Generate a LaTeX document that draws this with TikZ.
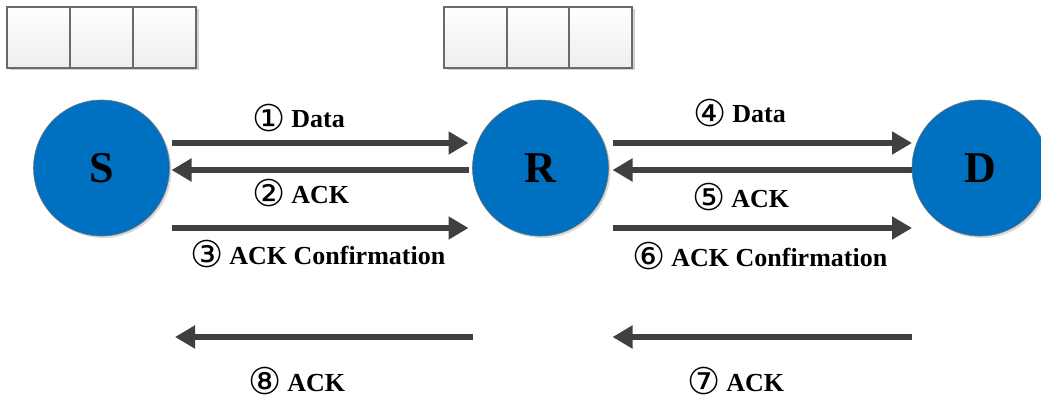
\documentclass[tikz,border=0pt]{standalone}
\usepackage{fontspec}
\setmainfont{Liberation Serif}
\newfontfamily\circfont{DejaVu Sans}
\usetikzlibrary{arrows.meta,shadows}

\definecolor{nodeblue}{HTML}{0070C0}
\definecolor{arrowgray}{HTML}{404040}
\definecolor{cellborder}{HTML}{6A6A6A}

% circled step number, kept out of the label's height and depth
\newcommand{\cnum}[1]{\smash{\raisebox{-3.5pt}{\circfont\mdseries\fontsize{37}{37}\selectfont #1}}\hspace{6pt}}

\tikzset{
  cell/.style={rectangle, draw=cellborder, line width=1.3pt,
    top color=white, bottom color=black!7,
    minimum width=63pt, minimum height=61pt, inner sep=0pt,
    drop shadow={shadow xshift=2.5pt, shadow yshift=-2.5pt, fill=black!18, opacity=1}},
  station/.style={circle, fill=nodeblue, draw=black!55, line width=0.6pt,
    minimum size=136pt, inner sep=0pt,
    font=\fontsize{44}{44}\selectfont\bfseries,
    drop shadow={shadow xshift=2pt, shadow yshift=-2pt, fill=black!15, opacity=1}},
  msg/.style={draw=arrowgray, line width=5.5pt,
    -{Triangle[length=20pt,width=22pt]}},
  lbl/.style={anchor=base west, inner sep=0pt,
    font=\fontsize{26}{26}\selectfont\bfseries},
}

\begin{document}
\begin{tikzpicture}[x=1pt,y=-1pt]
  \useasboundingbox (0,0) rectangle (1041,401);
  \clip (0,0) rectangle (1041,401);

  % queues above S and R
  \node[cell] (q11) at (38.5,37.5) {};
  \node[cell] (q12) at (101.5,37.5) {};
  \node[cell] (q13) at (164.5,37.5) {};
  \node[cell] (q21) at (475.5,37.5) {};
  \node[cell] (q22) at (538.5,37.5) {};
  \node[cell] (q23) at (600.5,37.5) {};

  % stations
  \node[station] (S) at (101.5,168) {S};
  \node[station] (R) at (540.5,168) {R};
  \node[station] (D) at (980,168) {D};

  % S <-> R exchange
  \draw[msg] ([shift={(70,-25)}]S.center) -- ([shift={(-72,-25)}]R.center);
  \draw[msg] ([shift={(-72,2)}]R.center) -- ([shift={(70,2)}]S.center);
  \draw[msg] ([shift={(70,60)}]S.center) -- ([shift={(-72,60)}]R.center);

  % R <-> D exchange
  \draw[msg] ([shift={(72,-25)}]R.center) -- ([shift={(-68,-25)}]D.center);
  \draw[msg] ([shift={(-68,2)}]D.center) -- ([shift={(72,2)}]R.center);
  \draw[msg] ([shift={(72,60)}]R.center) -- ([shift={(-68,60)}]D.center);

  % final acknowledgements
  \draw[msg] ([shift={(-67.5,169)}]R.center) -- ([shift={(73.5,169)}]S.center);
  \draw[msg] ([shift={(-68,169)}]D.center) -- ([shift={(72,169)}]R.center);

  % labels
  \node[lbl] (l1) at (252,128) {\cnum{①}Data};
  \node[lbl] (l2) at (252,203) {\cnum{②}ACK};
  \node[lbl] (l3) at (190,264) {\cnum{③}ACK Confirmation};
  \node[lbl] (l4) at (693,123) {\cnum{④}Data};
  \node[lbl] (l5) at (692,207) {\cnum{⑤}ACK};
  \node[lbl] (l6) at (632,266) {\cnum{⑥}ACK Confirmation};
  \node[lbl] (l7) at (687,391) {\cnum{⑦}ACK};
  \node[lbl] (l8) at (248,391) {\cnum{⑧}ACK};
\end{tikzpicture}
\end{document}
